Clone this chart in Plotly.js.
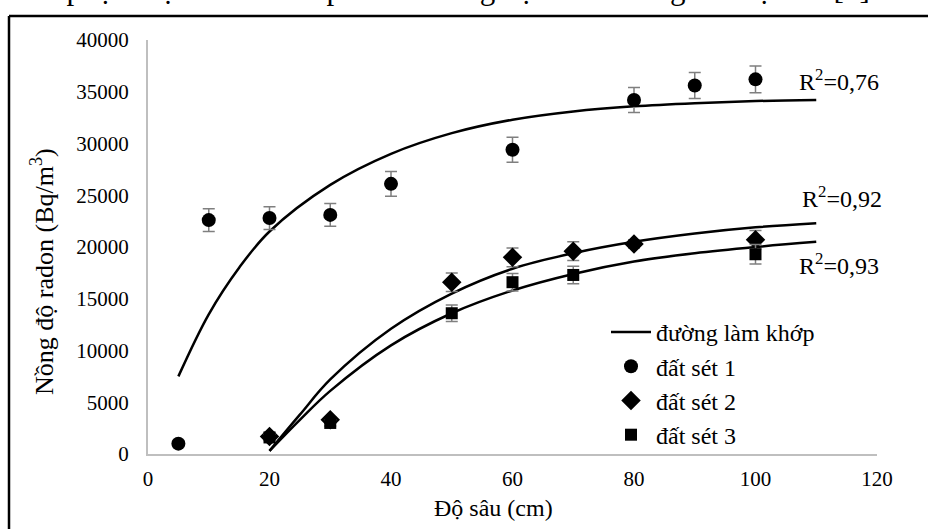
<!DOCTYPE html>
<html>
<head>
<meta charset="utf-8">
<script src="https://cdn.plot.ly/plotly-3.0.1.min.js"></script>
<style>
html,body{margin:0;padding:0;background:#fff;}
#chart{width:928px;height:529px;}
</style>
</head>
<body>
<div id="chart"></div>
<script>
// Measured data
const depth1 = [5, 10, 20, 30, 40, 60, 80, 90, 100];
const clay1 = [1000, 22600, 22800, 23100, 26100, 29400, 34200, 35600, 36200];
const clay1Err = [300, 1100, 1100, 1100, 1200, 1200, 1200, 1250, 1300];

const depth2 = [20, 30, 50, 60, 70, 80, 100];
const clay2 = [1700, 3300, 16600, 19000, 19600, 20300, 20700];
const clay2Err = [300, 300, 900, 900, 900, 400, 900];

const depth3 = [20, 30, 50, 60, 70, 100];
const clay3 = [1600, 3000, 13600, 16600, 17300, 19300];
const clay3Err = [300, 300, 800, 850, 850, 950];

// Fitted curves
const fit1X = [5, 10, 15, 20, 30, 40, 50, 60, 70, 80, 90, 100, 110];
const fit1Y = [7500, 13500, 18000, 21500, 26000, 29000, 31000, 32300, 33100, 33600, 33900, 34100, 34200];
const fit2X = [20, 25, 30, 40, 50, 60, 70, 80, 90, 100, 110];
const fit2Y = [300, 3800, 7200, 12100, 15500, 17900, 19400, 20500, 21300, 21900, 22300];
const fit3X = [20, 25, 30, 40, 50, 60, 70, 80, 90, 100, 110];
const fit3Y = [300, 3300, 6100, 10500, 13600, 15800, 17400, 18600, 19400, 20000, 20500];

const xTicks = [0, 20, 40, 60, 80, 100, 120];
const yTicks = [0, 5000, 10000, 15000, 20000, 25000, 30000, 35000, 40000];

const legendNames = ['đường làm khớp', 'đất sét 1', 'đất sét 2', 'đất sét 3'];
const r2Labels = ['R<sup>2</sup>=0,76', 'R<sup>2</sup>=0,92', 'R<sup>2</sup>=0,93'];
const r2Pos = [[106.8, 36100], [107.4, 24800], [106.9, 18400]];

const FONT = '"Liberation Serif", "Times New Roman", serif';
const errStyle = (arr) => ({type: 'data', array: arr, visible: true, color: '#7f7f7f', thickness: 1.5, width: 6});

const data = [
  {x: fit1X, y: fit1Y, mode: 'lines', line: {color: '#000', width: 2.5, shape: 'spline', smoothing: 1}, name: legendNames[0], showlegend: true, hoverinfo: 'skip'},
  {x: fit2X, y: fit2Y, mode: 'lines', line: {color: '#000', width: 2.5, shape: 'spline', smoothing: 1}, showlegend: false, hoverinfo: 'skip'},
  {x: fit3X, y: fit3Y, mode: 'lines', line: {color: '#000', width: 2.5, shape: 'spline', smoothing: 1}, showlegend: false, hoverinfo: 'skip'},
  {x: depth1, y: clay1, mode: 'markers', name: legendNames[1], marker: {symbol: 'circle', size: 14, color: '#000'}, error_y: errStyle(clay1Err)},
  {x: depth2, y: clay2, mode: 'markers', name: legendNames[2], marker: {symbol: 'diamond', size: 15, color: '#000'}, error_y: errStyle(clay2Err)},
  {x: depth3, y: clay3, mode: 'markers', name: legendNames[3], marker: {symbol: 'square', size: 12, color: '#000'}, error_y: errStyle(clay3Err)}
];

const L = 148, R = 877, T = 40, B = 454;
const px = (p) => (p - L) / (R - L);
const py = (p) => (B - p) / (B - T);

const annotations = r2Labels.map((t, i) => ({
  x: r2Pos[i][0], y: r2Pos[i][1], xref: 'x', yref: 'y', text: t, showarrow: false,
  xanchor: 'left', yanchor: 'middle', font: {family: FONT, size: 24, color: '#000'}
}));
annotations.push({
  x: px(493), y: py(508), xref: 'paper', yref: 'paper', text: 'Độ sâu (cm)', showarrow: false,
  xanchor: 'center', yanchor: 'middle', font: {family: FONT, size: 24, color: '#000'}
});
annotations.push({
  x: px(42), y: py(272), xref: 'paper', yref: 'paper', text: 'Nồng độ radon (Bq/m<sup>3</sup>)', showarrow: false,
  textangle: -90, xanchor: 'center', yanchor: 'middle', font: {family: FONT, size: 26, color: '#000'}
});
annotations.push({
  x: px(12), y: py(8), xref: 'paper', yref: 'paper', text: 'còn phụ thuộc nhiều vào phân bố nồng độ radon trong các hạt đất [7].', showarrow: false,
  xanchor: 'left', yanchor: 'bottom', font: {family: FONT, size: 31, color: '#000'}
});

const layout = {
  width: 928, height: 529,
  margin: {l: L, r: 928 - R, t: T, b: 529 - B, pad: 0},
  paper_bgcolor: '#fff', plot_bgcolor: '#fff',
  showlegend: true,
  legend: {
    x: px(606), y: py(310), xanchor: 'left', yanchor: 'top',
    font: {family: FONT, size: 24, color: '#000'},
    bgcolor: 'rgba(0,0,0,0)', traceorder: 'normal', itemwidth: 40
  },
  xaxis: {
    range: [0, 120], tickvals: xTicks, ticktext: xTicks.map(String),
    showgrid: false, zeroline: false, showline: true, linecolor: '#bfbfbf', linewidth: 2,
    ticks: 'outside', ticklen: 5, tickcolor: 'rgba(0,0,0,0)',
    tickfont: {family: FONT, size: 21, color: '#000'}
  },
  yaxis: {
    range: [0, 40000], tickvals: yTicks, ticktext: yTicks.map(String),
    showgrid: false, zeroline: false, showline: true, linecolor: '#bfbfbf', linewidth: 2,
    ticks: 'outside', ticklen: 13, tickcolor: 'rgba(0,0,0,0)',
    tickfont: {family: FONT, size: 21, color: '#000'}
  },
  shapes: [
    {type: 'line', xref: 'paper', yref: 'paper', x0: px(9), x1: px(940), y0: py(16), y1: py(16), line: {color: '#000', width: 2.5}},
    {type: 'line', xref: 'paper', yref: 'paper', x0: px(9), x1: px(9), y0: py(16), y1: py(540), line: {color: '#000', width: 2.5}}
  ],
  annotations: annotations
};

Plotly.newPlot('chart', data, layout, {displayModeBar: false, staticPlot: true});
</script>
</body>
</html>
